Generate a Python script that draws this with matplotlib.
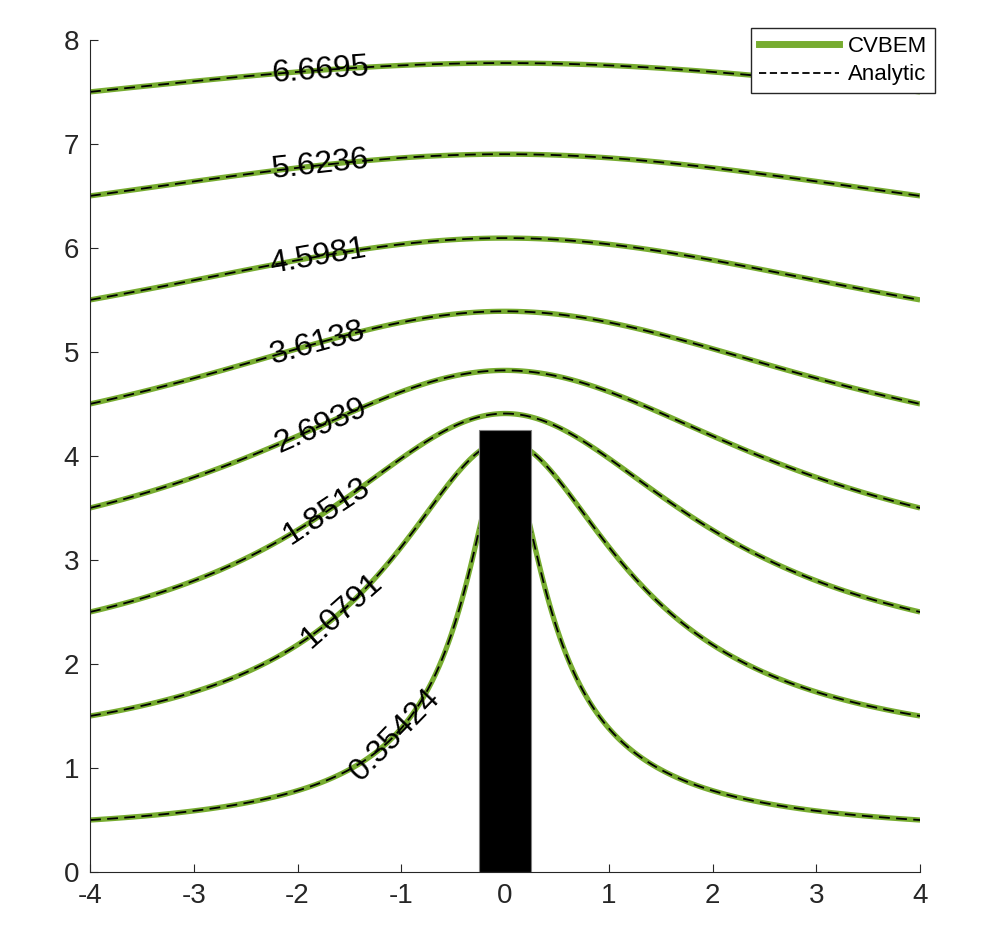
import numpy as np
import matplotlib.pyplot as plt
from matplotlib.lines import Line2D
from matplotlib.patches import Rectangle

plt.rcParams['font.family'] = ['Liberation Sans', 'DejaVu Sans']
plt.rcParams['axes.unicode_minus'] = False

# stream function levels shown on the chart
levels = [0.35424, 1.0791, 1.8513, 2.6939, 3.6138, 4.5981, 5.6236, 6.6695]
label_pos = [(-1.04, 1.3), (-1.54, 2.47), (-1.71, 3.46), (-1.76, 4.25),
             (-1.8, 5.06), (-1.8, 5.9), (-1.78, 6.78), (-1.78, 7.68)]
plate_half_width = 0.25
plate_height = 4.25
h = 4.0  # plate height in the analytic potential

# analytic streamfunction of uniform flow over a vertical plate: psi = Im sqrt(z^2 + h^2)
x = np.linspace(-4, 4, 1201)
y = np.linspace(0, 8, 1201)
X, Y = np.meshgrid(x, y)
Z = X + 1j * Y
psi = np.abs(np.imag(np.sqrt(Z**2 + h**2)))

fig = plt.figure(figsize=(9.83, 9.27), dpi=100)
ax = fig.add_axes([0.0916, 0.0593, 0.936 - 0.0916, 0.957 - 0.0593])

green = '#77AC30'
ax.contour(X, Y, psi, levels=levels, colors=green, linewidths=3.8)
cs = ax.contour(X, Y, psi, levels=levels, colors='k', linewidths=1.3,
                linestyles=[(0, (6, 3.5))])
ax.clabel(cs, levels, manual=label_pos, inline=False, fontsize=23,
          colors='k', fmt=lambda v: f"{v:.5g}")

ax.add_patch(Rectangle((-plate_half_width, 0), 2 * plate_half_width, plate_height,
                       facecolor='k', edgecolor='0.5', linewidth=0.8, zorder=5))

ax.set_xlim(-4, 4)
ax.set_ylim(0, 8)
ax.set_xticks(range(-4, 5))
ax.set_yticks(range(0, 9))
ax.tick_params(direction='in', length=6, labelsize=20, colors='0.15', pad=8)
for s in ['top', 'right']:
    ax.spines[s].set_visible(False)
for s in ['left', 'bottom']:
    ax.spines[s].set_color('0.15')

handles = [Line2D([], [], color=green, lw=5),
           Line2D([], [], color='k', lw=1.3, ls=(0, (4, 2)))]
leg = ax.legend(handles, ['CVBEM', 'Analytic'], loc='upper right',
                bbox_to_anchor=(1.018, 1.0144), fontsize=16, fancybox=False,
                framealpha=1, edgecolor='0.15', handlelength=3.6,
                borderpad=0.35, labelspacing=0.35, handletextpad=0.4,
                borderaxespad=0)
leg.set_zorder(10)

fig.savefig('out.png', dpi=100)
